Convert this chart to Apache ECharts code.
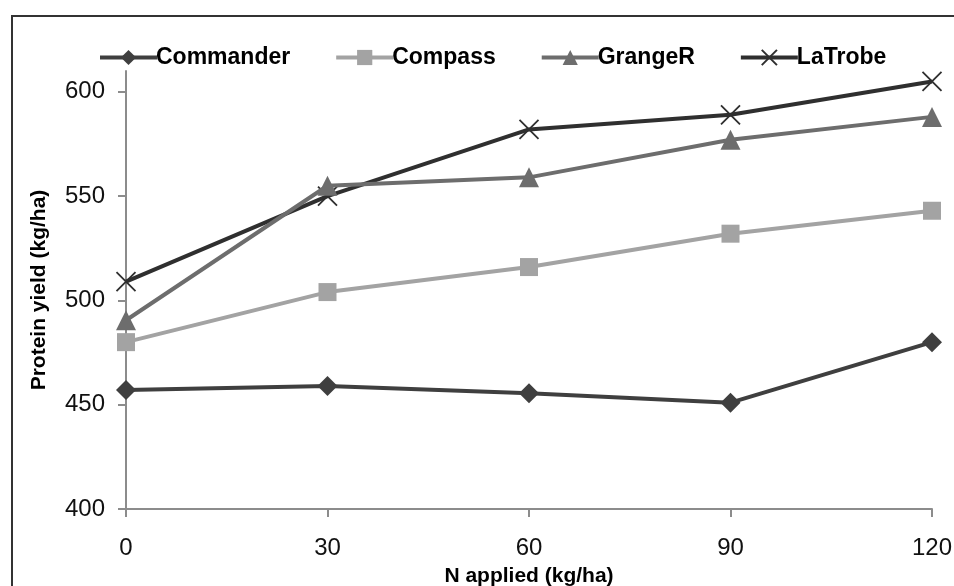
<!DOCTYPE html>
<html><head><meta charset="utf-8">
<script src="https://cdn.jsdelivr.net/npm/echarts@6/dist/echarts.min.js"></script>
<style>html,body{margin:0;padding:0;background:#fff}#c{width:954px;height:586px}</style>
</head><body><div id="c"></div>
<script>
const xValues = [0, 30, 60, 90, 120];
const yTicks = [400, 450, 500, 550, 600];
const seriesNames = ['Commander', 'Compass', 'GrangeR', 'LaTrobe'];
const commander = [457, 459, 455.5, 451, 480];
const compass = [480, 504, 516, 532, 543];
const grangeR = [490.5, 555, 559, 577, 588];
const laTrobe = [509, 550, 582, 589, 605];

const font = '"Liberation Sans", Arial, sans-serif';
const colors = ['#3f3f3f', '#a3a3a3', '#6d6d6d', '#2f2f2f'];
const symbols = ['diamond', 'rect', 'triangle', 'path://M0,0L10,10M10,0L0,10'];
const sizes = [20, 18, 20, 19];
const allData = [commander, compass, grangeR, laTrobe];

const chart = echarts.init(document.getElementById('c'));
chart.setOption({
  animation: false,
  graphic: [{type: 'rect', shape: {x: 12, y: 16, width: 980, height: 620}, style: {fill: 'none', stroke: '#333', lineWidth: 2}, silent: true}],
  legend: {
    left: 93, top: 41, itemWidth: 57, itemHeight: 19, itemGap: 44,
    lineStyle: {width: 4},
    textStyle: {fontFamily: font, fontWeight: 'bold', fontSize: 23, color: '#000', padding: [0,0,0,-6]},
    data: seriesNames
  },
  grid: {left: 126, right: 22, top: 71, bottom: 77, outerBoundsMode: 'none'},
  xAxis: {
    type: 'value', min: 0, max: 120, interval: 30,
    name: 'N applied (kg/ha)', nameLocation: 'middle', nameGap: 57,
    nameTextStyle: {fontFamily: font, fontWeight: 'bold', fontSize: 21, color: '#000'},
    axisLine: {lineStyle: {color: '#8c8c8c', width: 2}},
    axisTick: {show: true, length: 8, lineStyle: {color: '#8c8c8c', width: 2}},
    axisLabel: {fontFamily: font, fontSize: 24, color: '#111', margin: 27},
    splitLine: {show: false}
  },
  yAxis: {
    type: 'value', min: 400, max: 610, interval: 50,
    name: 'Protein yield (kg/ha)', nameLocation: 'middle', nameGap: 76, nameRotate: 90,
    nameTextStyle: {fontFamily: font, fontWeight: 'bold', fontSize: 21, color: '#000'},
    axisLine: {show: true, lineStyle: {color: '#8c8c8c', width: 2}},
    axisTick: {show: true, length: 8, lineStyle: {color: '#8c8c8c', width: 2}, customValues: yTicks},
    axisLabel: {fontFamily: font, fontSize: 24, color: '#111', margin: 21, customValues: yTicks},
    splitLine: {show: false}
  },
  series: seriesNames.map((n, i) => ({
    name: n, type: 'line',
    data: xValues.map((x, j) => [x, allData[i][j]]),
    symbol: symbols[i], symbolSize: sizes[i], showAllSymbol: true,
    lineStyle: {color: colors[i], width: 4},
    itemStyle: i === 3 ? {color: '#fff', borderColor: colors[i], borderWidth: 1.8, opacity: 1} : {color: colors[i]},
    clip: false, z: 10 - i
  }))
});
</script></body></html>
